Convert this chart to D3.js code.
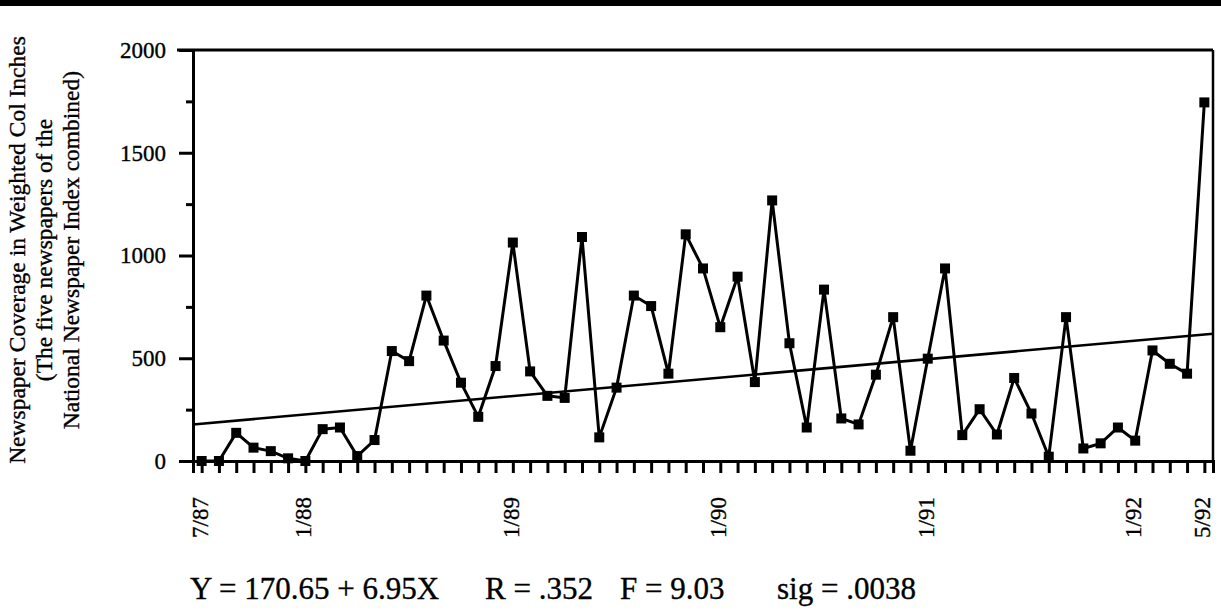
<!DOCTYPE html>
<html>
<head>
<meta charset="utf-8">
<script src="https://cdn.jsdelivr.net/npm/d3@7"></script>
<style>
  html, body { margin: 0; padding: 0; background: #fff; }
  svg { display: block; }
  text { font-family: "Liberation Serif", "Times New Roman", serif; fill: #000; stroke: #000; stroke-width: 0.35px; }
</style>
</head>
<body>
<svg id="chart" width="1221" height="613"></svg>
<script>
// ---- data ----
const months = [
  "7/87","8/87","9/87","10/87","11/87","12/87",
  "1/88","2/88","3/88","4/88","5/88","6/88","7/88","8/88","9/88","10/88","11/88","12/88",
  "1/89","2/89","3/89","4/89","5/89","6/89","7/89","8/89","9/89","10/89","11/89","12/89",
  "1/90","2/90","3/90","4/90","5/90","6/90","7/90","8/90","9/90","10/90","11/90","12/90",
  "1/91","2/91","3/91","4/91","5/91","6/91","7/91","8/91","9/91","10/91","11/91","12/91",
  "1/92","2/92","3/92","4/92","5/92"
];
const coverage = [
  0, 0, 137, 65, 48, 13,
  0, 155, 163, 24, 102, 535, 486, 805, 586, 381, 215, 462,
  1063, 436, 317, 307, 1090, 115, 357, 805, 754, 425, 1103, 937,
  651, 897, 384, 1268, 573, 163, 834, 207, 178, 420, 700, 50,
  498, 937, 126, 252, 129, 404, 231, 21, 700, 61, 86, 163,
  99, 538, 473, 425, 1745
];
const labeledMonths = ["7/87","1/88","1/89","1/90","1/91","1/92","5/92"];
const yMajorTicks = [0, 500, 1000, 1500, 2000];
const yMinorTicks = [250, 750, 1250, 1750];
const trendEnds = [178, 619]; // regression line values at the left and right frame edges
const yTitleLines = [
  "Newspaper Coverage in Weighted Col Inches",
  "(The five newspapers of the",
  "National Newspaper Index combined)"
];
const statTexts = [
  {t: "Y = 170.65 + 6.95X", x: 190},
  {t: "R = .352", x: 485},
  {t: "F = 9.03", x: 620},
  {t: "sig = .0038", x: 777}
];

// ---- layout ----
const svg = d3.select("#chart");
const plotL = 193, plotR = 1213, plotT = 50, plotB = 461;

const x = d3.scaleLinear().domain([-0.5, months.length - 0.5]).range([plotL, plotR]);
const y = d3.scaleLinear().domain([0, 2000]).range([plotB, plotT]);

// top black bar
svg.append("rect").attr("x", 0).attr("y", 0).attr("width", 1221).attr("height", 6).attr("fill", "#000");

// frame: top and right
svg.append("line").attr("x1", 177).attr("x2", plotR).attr("y1", plotT).attr("y2", plotT)
  .attr("stroke", "#000").attr("stroke-width", 3);
svg.append("line").attr("x1", plotR).attr("x2", plotR).attr("y1", plotT).attr("y2", plotB)
  .attr("stroke", "#000").attr("stroke-width", 2.5);

// y axis major
const yAxis = svg.append("g").attr("transform", `translate(${plotL},0)`)
  .call(d3.axisLeft(y).tickValues(yMajorTicks).tickSize(14).tickPadding(13).tickFormat(d3.format("d")));
yAxis.attr("font-family", null).attr("font-size", null);
yAxis.selectAll("text").style("font-size", "23px");
yAxis.select(".domain").attr("stroke-width", 3);
yAxis.selectAll(".tick line").attr("stroke-width", 3);

// y axis minor
const yMinor = svg.append("g").attr("transform", `translate(${plotL},0)`)
  .call(d3.axisLeft(y).tickValues(yMinorTicks).tickSize(7).tickFormat(""));
yMinor.select(".domain").remove();
yMinor.selectAll(".tick line").attr("stroke-width", 3);

// x axis
const xAxis = svg.append("g").attr("transform", `translate(0,${plotB})`)
  .call(d3.axisBottom(x).tickValues(d3.range(months.length)).tickSize(12).tickFormat(""));
xAxis.select(".domain").attr("stroke-width", 3);
xAxis.selectAll(".tick line").attr("stroke-width", 3);

// x labels (rotated)
svg.append("g").selectAll("text")
  .data(labeledMonths)
  .join("text")
  .attr("transform", d => `translate(${x(months.indexOf(d)) + 6},497) rotate(-90)`)
  .attr("text-anchor", "end")
  .style("font-size", "23px")
  .text(d => d);

// y title
svg.append("g").selectAll("text")
  .data(yTitleLines)
  .join("text")
  .attr("transform", (d, i) => `translate(${25 + i * 27},250) rotate(-90)`)
  .attr("text-anchor", "middle")
  .style("font-size", "23.5px")
  .text(d => d);

// regression line
svg.append("line")
  .attr("x1", x(-0.5)).attr("y1", y(trendEnds[0]))
  .attr("x2", x(months.length - 0.5)).attr("y2", y(trendEnds[1]))
  .attr("stroke", "#000").attr("stroke-width", 2.6);

// data line
const line = d3.line().x((d, i) => x(i)).y(d => y(d));
svg.append("path").datum(coverage)
  .attr("d", line)
  .attr("fill", "none").attr("stroke", "#000").attr("stroke-width", 3)
  .attr("stroke-linejoin", "miter");

// markers
const ms = 10;
svg.append("g").selectAll("rect")
  .data(coverage)
  .join("rect")
  .attr("x", (d, i) => x(i) - ms / 2)
  .attr("y", d => y(d) - ms / 2)
  .attr("width", ms).attr("height", ms)
  .attr("fill", "#000");

// statistics text
svg.append("g").selectAll("text")
  .data(statTexts)
  .join("text")
  .attr("x", d => d.x).attr("y", 599)
  .style("font-size", "31px")
  .text(d => d.t);
</script>
</body>
</html>
